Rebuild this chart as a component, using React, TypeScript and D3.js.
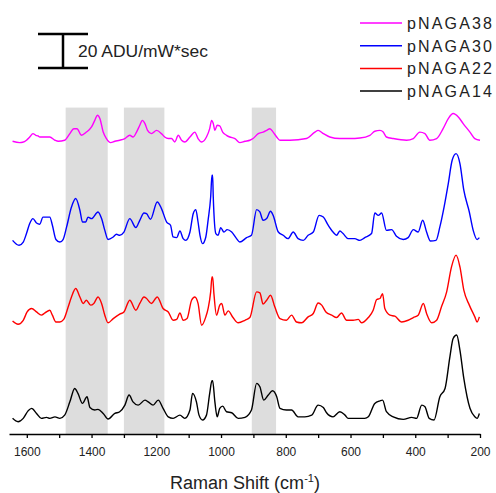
import React, { useEffect, useRef } from 'react'
import * as d3 from 'd3'

// stacked Raman spectra, intensity in ADU/mW*sec, offsets push each trace up
const seriesNames = ['pNAGA38', 'pNAGA30', 'pNAGA22', 'pNAGA14']
const seriesColors = ['#ff00ff', '#0000ff', '#ff0000', '#000000']
const offsets = [164, 104, 57, 0]

// shaded regions (cm-1)
const bands = [[1480, 1350], [1300, 1175], [905, 830]]

const pNAGA38 = [
  [1644, 1.2], [1622, 0.4], [1613, 0.6], [1601, 1.8], [1591, 3.7], [1581, 5.7], [1572, 4.7], [1565, 4.3],
  [1560, 3.7], [1529, 3.7], [1513, 1.8], [1503, 1.2], [1483, 1.8], [1467, 5.7], [1455, 8.6], [1445, 8.6],
  [1431, 4.7], [1416, 6.6], [1400, 9.6], [1390, 13.5], [1382, 16.5], [1374, 14.5], [1364, 6.6], [1354, 2.8],
  [1341, 0.4], [1328, 1.2], [1313, 1.8], [1297, 2.8], [1282, 4.7], [1272, 3.7], [1261, 6.6], [1251, 10.6],
  [1243, 13.5], [1235, 11.6], [1227, 7.6], [1215, 5.7], [1199, 7.6], [1184, 5.7], [1174, 3.7], [1163, 2.8],
  [1153, 2.8], [1143, 0.8], [1132, 4.7], [1122, 1.8], [1112, 0.8], [1096, 3.7], [1081, 6.6], [1071, 2.8],
  [1060, 0.8], [1045, 3.7], [1035, 8.6], [1029, 13.5], [1024, 11.6], [1019, 7.6], [1012, 10.6], [1004, 10.2],
  [995, 6.6], [983, 4.7], [973, 3.7], [957, 2.8], [942, 0.4], [926, 1.2], [911, 1.8], [901, 2.8],
  [885, 5.7], [870, 6.6], [859, 7.6], [849, 8.6], [839, 6.6], [828, 3.7], [818, 1.8], [787, 1.8],
  [736, 2.8], [710, 6.6], [700, 7.6], [684, 5.7], [664, 3.7], [633, 2.8], [602, 2.8], [571, 3.1],
  [540, 4.7], [525, 7.1], [509, 7.6], [499, 6.6], [489, 3.7], [468, 2.8], [427, 1.8], [406, 2.8],
  [386, 6.6], [370, 5.7], [355, 1.8], [334, 2.8], [314, 8.6], [298, 14.5], [283, 17.5], [267, 15.5],
  [252, 11.6], [231, 6.6], [216, 2.8], [200, 1.8],
]

const pNAGA30 = [
  [1644, 2.9], [1624, 0], [1611, 1.9], [1601, 6.9], [1591, 12.8], [1581, 15.7], [1570, 13.1], [1560, 12.4],
  [1550, 16.6], [1529, 16.6], [1521, 11.8], [1510, 3.4], [1498, 1.9], [1488, 3.4], [1477, 10.8], [1462, 22.5],
  [1449, 27.5], [1436, 20.6], [1428, 13.7], [1418, 13.7], [1411, 16.6], [1400, 15.7], [1380, 19.6], [1369, 15.7],
  [1359, 8.8], [1349, 3.4], [1333, 4.9], [1323, 6.5], [1313, 5.9], [1300, 7.8], [1282, 15.7], [1263, 10.4],
  [1251, 14.7], [1238, 19], [1230, 18.6], [1218, 15.3], [1197, 25.5], [1184, 21.6], [1168, 13.7], [1156, 11.8],
  [1148, 4.9], [1137, 4.5], [1127, 8.4], [1117, 3.9], [1109, 2.9], [1096, 7.8], [1086, 18.6], [1078, 21],
  [1071, 13.7], [1065, 5.9], [1057, 1], [1047, 4.9], [1040, 14.7], [1032, 28.4], [1028, 41.2], [1026, 41.2],
  [1024, 28.4], [1016, 6.9], [1009, 5.9], [1001, 10.4], [991, 7.8], [981, 9.2], [967, 7.8], [952, 3.9],
  [942, 1.9], [921, 4.5], [906, 5.9], [890, 21], [880, 19.6], [870, 14.7], [859, 15.7], [847, 20],
  [839, 17.6], [823, 7.8], [808, 5.9], [793, 3.9], [777, 7.8], [762, 3.9], [746, 2.9], [731, 5.9],
  [715, 7.8], [697, 17.6], [684, 16.6], [669, 11.8], [654, 7.8], [643, 5.9], [633, 8.4], [623, 6.9],
  [607, 3.9], [587, 3.9], [571, 2.9], [556, 4.5], [535, 6.9], [525, 19], [514, 17.6], [504, 19],
  [489, 8.8], [473, 9.2], [458, 5.3], [437, 3.4], [422, 4.5], [406, 9.2], [391, 7.8], [377, 14.7],
  [365, 7.8], [353, 2.5], [336, 2.9], [324, 10.8], [311, 22.5], [298, 36.3], [286, 50], [274, 53.9],
  [262, 48.1], [250, 32.4], [233, 19.6], [221, 8.8], [209, 3.4], [202, 4.5],
]

const pNAGA22 = [
  [1644, 2.5], [1627, 0.6], [1611, 2.9], [1599, 7.8], [1585, 9.8], [1570, 7.8], [1555, 5.9], [1544, 7.2],
  [1529, 8.8], [1521, 5.9], [1510, 1.9], [1498, 1.9], [1486, 3.4], [1472, 10.8], [1462, 16.6], [1449, 21.6],
  [1436, 16.6], [1426, 12.8], [1416, 14.7], [1403, 11.8], [1393, 12.8], [1380, 16.6], [1369, 12.8], [1359, 5.9],
  [1349, 1.4], [1333, 3.9], [1313, 6.5], [1300, 7.8], [1282, 14.7], [1263, 8.8], [1251, 12.8], [1238, 16.6],
  [1230, 15.7], [1215, 12.8], [1197, 16.6], [1179, 9.8], [1163, 7.8], [1148, 2.9], [1137, 3.4], [1127, 7.2],
  [1117, 2.9], [1105, 3.9], [1091, 14.7], [1081, 16.6], [1071, 12.8], [1060, 0], [1047, 4.9], [1040, 9.8],
  [1032, 19.6], [1028, 28.4], [1026, 28.4], [1022, 18.6], [1014, 5.9], [1004, 11.8], [998, 12.8], [988, 5.9],
  [978, 8.4], [963, 4.5], [947, 1.4], [926, 2.9], [911, 4.5], [890, 19.6], [880, 19], [870, 12.4],
  [859, 14.7], [847, 17.6], [834, 10.8], [818, 3.9], [798, 2.9], [782, 5.9], [767, 1.9], [751, 1.4],
  [731, 4.9], [715, 6.9], [700, 13.1], [689, 11.8], [676, 7.8], [658, 5.9], [643, 4.5], [628, 7.2],
  [612, 2.9], [592, 2.9], [576, 3.4], [566, 1.4], [545, 4.5], [530, 8.8], [519, 15.1], [509, 15.7],
  [501, 18.6], [494, 9.8], [478, 5.9], [463, 5.3], [442, 1.9], [422, 2.9], [406, 4.5], [391, 5.9],
  [375, 12.8], [365, 6.9], [349, 1.4], [334, 2.9], [319, 10.8], [303, 19.6], [288, 34.3], [274, 41.2],
  [262, 34.3], [250, 20.6], [233, 11.8], [216, 4.9], [209, 1.9], [202, 4.9],
]

const pNAGA14 = [
  [1644, 2.2], [1627, 0.2], [1611, 2.2], [1596, 6.6], [1585, 8.1], [1570, 5.1], [1555, 2.2], [1539, 2.8],
  [1529, 2.2], [1513, 3.1], [1498, 2.2], [1483, 4.1], [1467, 11.9], [1452, 19.8], [1442, 16.9], [1428, 11],
  [1414, 14.9], [1405, 8.6], [1390, 7.1], [1380, 7.5], [1364, 5.1], [1349, 1.8], [1328, 5.1], [1313, 6.1],
  [1297, 10], [1284, 15.9], [1272, 11.9], [1256, 10], [1235, 12.9], [1225, 11.9], [1210, 10], [1194, 12.9],
  [1179, 8.1], [1163, 3.1], [1148, 2.2], [1127, 4.1], [1112, 2.2], [1096, 7.1], [1088, 16.9], [1076, 11.9],
  [1068, 4.1], [1057, 1.2], [1045, 4.1], [1035, 16.9], [1028, 24.3], [1026, 24.3], [1019, 11.9], [1012, 3.1],
  [1004, 8.1], [995, 9.4], [983, 6.1], [967, 5.5], [947, 2.2], [926, 2.8], [906, 7.1], [890, 22.8],
  [880, 20.8], [868, 12.9], [854, 15.9], [841, 18.4], [828, 14.9], [818, 8.1], [798, 7.1], [782, 7.1],
  [762, 3.1], [741, 3.1], [720, 4.1], [700, 10], [684, 8.6], [674, 5.5], [654, 3.1], [633, 6.1],
  [617, 4.1], [607, 2.2], [556, 2.2], [545, 3.1], [525, 11], [509, 12.5], [501, 12.9], [489, 6.1],
  [468, 3.1], [437, 1.6], [411, 2.8], [396, 2.2], [380, 10], [370, 9], [357, 2.2], [342, 1.2],
  [324, 14.9], [308, 19.8], [293, 38.4], [283, 49.2], [272, 51.2], [262, 42.4], [250, 25.7], [231, 8.1],
  [216, 3.1], [209, 2.2], [202, 5.1],
]

const spectra = [pNAGA38, pNAGA30, pNAGA22, pNAGA14]

const font = '"Liberation Sans", Arial, sans-serif'

export default function App() {
  const ref = useRef(null)

  useEffect(() => {
    const width = 496
    const height = 493

    d3.select(ref.current).selectAll('svg').remove()

    const svg = d3.select(ref.current)
      .append('svg')
      .attr('width', width)
      .attr('height', height)
      .style('position', 'absolute')
      .style('left', 0)
      .style('top', 0)
      .style('font-family', font)

    const x = d3.scaleLinear().domain([1655, 200]).range([9, 480])
    // 1.7 px per ADU
    const y = d3.scaleLinear().domain([-7, 230]).range([434, 31.1])

    // grey bands
    svg.selectAll('rect.band')
      .data(bands)
      .enter()
      .append('rect')
      .attr('class', 'band')
      .attr('x', d => x(d[0]))
      .attr('width', d => x(d[1]) - x(d[0]))
      .attr('y', y(185))
      .attr('height', y(-7) - y(185))
      .attr('fill', '#dddddd')

    // spectra
    spectra.forEach((data, i) => {
      const line = d3.line()
        .curve(d3.curveMonotoneX)
        .x(d => x(d[0]))
        .y(d => y(d[1] + offsets[i]))
      svg.append('path')
        .datum(data)
        .attr('d', line)
        .attr('fill', 'none')
        .attr('stroke', seriesColors[i])
        .attr('stroke-width', 1.4)
        .attr('stroke-linejoin', 'round')
    })

    // x axis
    const axis = svg.append('g')
      .attr('transform', 'translate(0,434)')
      .call(d3.axisBottom(x)
        .tickValues(d3.range(200, 1601, 100))
        .tickFormat(d => (d % 200 === 0 ? String(d) : ''))
        .tickSize(4)
        .tickSizeOuter(0)
        .tickPadding(9))
    axis.select('.domain').attr('stroke', '#000').attr('stroke-width', 1.5)
    axis.selectAll('.tick line').attr('stroke', '#000').attr('stroke-width', 1.3)
    axis.selectAll('.tick text')
      .attr('fill', '#222')
      .style('font-family', font)
      .style('font-size', '12px')

    const title = svg.append('text')
      .attr('x', 245)
      .attr('y', 489)
      .attr('text-anchor', 'middle')
      .attr('fill', '#222')
      .style('font-size', '18px')
    title.append('tspan').text('Raman Shift (cm')
    title.append('tspan').attr('dy', -7).style('font-size', '11px').text('-1')
    title.append('tspan').attr('dy', 7).text(')')

    // scale bar: 20 ADU
    const barTop = 34
    const barLen = y(0) - y(20)
    svg.append('line')
      .attr('x1', 63).attr('x2', 63)
      .attr('y1', barTop).attr('y2', barTop + barLen)
      .attr('stroke', '#000').attr('stroke-width', 2.5)
    ;[barTop, barTop + barLen].forEach(yy => {
      svg.append('line')
        .attr('x1', 38).attr('x2', 88)
        .attr('y1', yy).attr('y2', yy)
        .attr('stroke', '#000').attr('stroke-width', 2.5)
    })
    svg.append('text')
      .attr('x', 78)
      .attr('y', 56.5)
      .attr('fill', '#222')
      .attr('textLength', 130)
      .attr('lengthAdjust', 'spacingAndGlyphs')
      .style('font-size', '16px')
      .text('20 ADU/mW*sec')

    // legend
    seriesNames.forEach((name, i) => {
      const cy = 23 + i * 22.7
      svg.append('line')
        .attr('x1', 360).attr('x2', 402)
        .attr('y1', cy).attr('y2', cy)
        .attr('stroke', seriesColors[i])
        .attr('stroke-width', 1.5)
      svg.append('text')
        .attr('x', 407)
        .attr('y', cy + 5.8)
        .attr('fill', '#222')
        .attr('textLength', 85)
        .attr('lengthAdjust', 'spacing')
        .style('font-size', '16px')
        .text(name)
    })
  }, [])

  return <div ref={ref}></div>
}
